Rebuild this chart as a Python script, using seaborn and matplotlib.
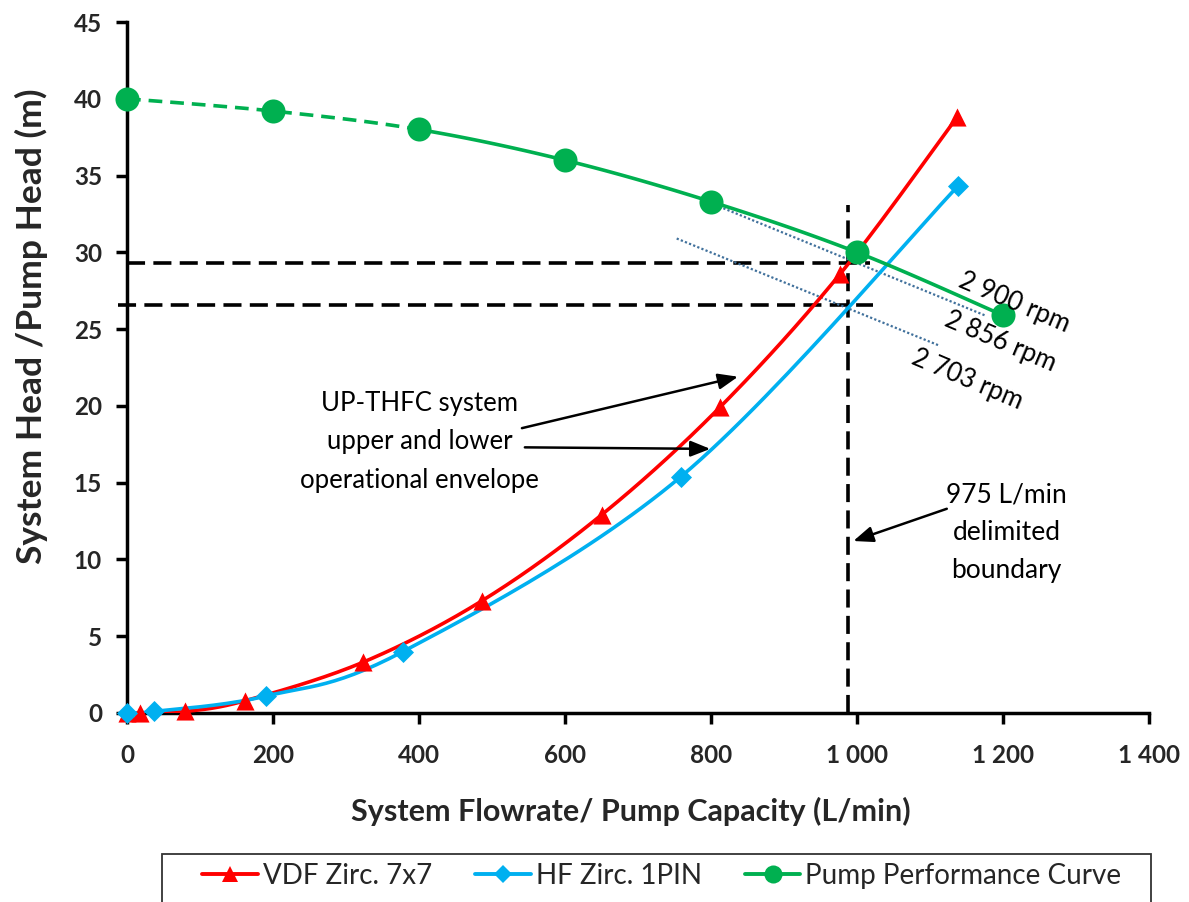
import numpy as np
import matplotlib
matplotlib.use("Agg")
import matplotlib.pyplot as plt
import seaborn as sns
from matplotlib.lines import Line2D
from matplotlib.patches import Rectangle
from matplotlib.ticker import FuncFormatter, MultipleLocator

# ---------------- data ----------------
vdf_x = [0, 18, 80, 162, 323, 486, 650, 812, 977, 1137]
vdf_y = [0, 0, 0.1, 0.8, 3.3, 7.3, 12.9, 19.9, 28.6, 38.8]

hf_x = [0, 37, 190, 378, 759, 1138]
hf_y = [0, 0.1, 1.1, 4.0, 15.4, 34.3]

pump_x = [0, 200, 400, 600, 800, 1000, 1200]
pump_y = [40, 39.2, 38, 36, 33.3, 30, 25.9]

legend_labels = ["VDF Zirc. 7x7", "HF Zirc. 1PIN", "Pump Performance Curve"]
rpm_labels = ["2 900 rpm", "2 856 rpm", "2 703 rpm"]
envelope_text = "UP-THFC system\nupper and lower\noperational envelope"
boundary_text = "975 L/min\ndelimited\nboundary"

x_label = "System Flowrate/ Pump Capacity (L/min)"
y_label = "System Head /Pump Head (m)"

RED = "#FF0000"
BLUE = "#00B0F0"
GREEN = "#00B050"
DOT = "#41719C"

sns.set_theme(style="white")
plt.rcParams["font.family"] = ["Lato", "DejaVu Sans"]

W, H = 1189, 902
fig = plt.figure(figsize=(W / 100, H / 100), dpi=100)
ax = fig.add_axes([127 / W, 1 - 713 / H, (1149 - 127) / W, (713 - 22) / H])
XMAX, YMAX = 1400, 45
ax.set_xlim(0, XMAX)
ax.set_ylim(0, YMAX)


def smooth(xs, ys, n=30):
    """Excel-style smoothed line (Catmull-Rom / Bezier) in normalised screen space."""
    sx = np.array(xs, float) / XMAX * 1022
    sy = np.array(ys, float) / YMAX * 691
    P = np.column_stack([sx, sy])
    out = []
    for i in range(len(P) - 1):
        p0 = P[i - 1] if i > 0 else P[i]
        p1, p2 = P[i], P[i + 1]
        p3 = P[i + 2] if i + 2 < len(P) else P[i + 1]
        c1 = p1 + (p2 - p0) / 6
        c2 = p2 - (p3 - p1) / 6
        t = np.linspace(0, 1, n)[:, None]
        seg = (1 - t) ** 3 * p1 + 3 * (1 - t) ** 2 * t * c1 + 3 * (1 - t) * t ** 2 * c2 + t ** 3 * p2
        out.append(seg if i == 0 else seg[1:])
    out = np.vstack(out)
    return out[:, 0] / 1022 * XMAX, out[:, 1] / 691 * YMAX


def draw_curve(xs, ys, color, lw, ls="-"):
    cx, cy = smooth(xs, ys)
    sns.lineplot(x=cx, y=cy, sort=False, estimator=None, ax=ax,
                 color=color, lw=lw, ls=ls, zorder=3)


# red / blue curves
draw_curve(vdf_x, vdf_y, RED, 2.6)
draw_curve(hf_x, hf_y, BLUE, 2.6)

# pump curve: dashed up to 400, solid afterwards
px, py = smooth(pump_x, pump_y)
split = pump_x.index(400)
npts = 30
k = split * (npts - 1)
sns.lineplot(x=px[: k + 1], y=py[: k + 1], sort=False, estimator=None, ax=ax,
             color=GREEN, lw=2.6, ls=(0, (3.8, 2.2)), zorder=3)
sns.lineplot(x=px[k:], y=py[k:], sort=False, estimator=None, ax=ax,
             color=GREEN, lw=2.6, ls="-", zorder=3)

# markers
sns.scatterplot(x=vdf_x, y=vdf_y, ax=ax, marker="^", s=170, color=RED,
                edgecolor=RED, linewidth=0, zorder=4, clip_on=False)
sns.scatterplot(x=hf_x, y=hf_y, ax=ax, marker="D", s=115, color=BLUE,
                edgecolor=BLUE, linewidth=0, zorder=4, clip_on=False)
sns.scatterplot(x=pump_x, y=pump_y, ax=ax, marker="o", s=300, color=GREEN,
                edgecolor=GREEN, linewidth=0, zorder=4, clip_on=False)

# reference dashed lines
dash = (0, (5, 2.3))
ax.plot([0, 1018], [29.3, 29.3], color="black", lw=2.6, ls=dash, zorder=2)
ax.plot([-12, 1022], [26.55, 26.55], color="black", lw=2.6, ls=dash, zorder=2, clip_on=False)
ax.plot([988, 988], [0, 33.1], color="black", lw=2.6, ls=dash, zorder=2)

# dotted tangent lines
ax.plot([800, 1175], [33.2, 25.9], color=DOT, lw=1.6, ls=(0, (1, 1)), zorder=2)
ax.plot([753, 1111], [30.9, 23.96], color=DOT, lw=1.6, ls=(0, (1, 1)), zorder=2)

# rpm labels
for (tx, ty), lab in zip([(1216, 26.75), (1197, 24.2), (1151, 21.7)], rpm_labels):
    ax.text(tx, ty, lab, rotation=-23, ha="center", va="center", fontsize=18.5,
            color="black", rotation_mode="anchor", zorder=5)

# envelope annotation
ax.text(401, 17.65, envelope_text, ha="center", va="center", fontsize=18.5,
        linespacing=1.68, color="black")
arrow_kw = dict(arrowstyle="-|>,head_length=1.0,head_width=0.4", color="black",
                lw=1.8, shrinkA=0, shrinkB=0)
ax.annotate("", xy=(837, 21.9), xytext=(541, 18.55), arrowprops=arrow_kw)
ax.annotate("", xy=(799, 17.2), xytext=(545, 17.3), arrowprops=arrow_kw)

# boundary annotation
ax.text(1205, 11.75, boundary_text, ha="center", va="center", fontsize=19,
        linespacing=1.65, color="black")
ax.annotate("", xy=(995, 11.2), xytext=(1123, 13.3), arrowprops=arrow_kw)

# axes styling
for s in ["top", "right"]:
    ax.spines[s].set_visible(False)
for s in ["left", "bottom"]:
    ax.spines[s].set_color("black")
    ax.spines[s].set_linewidth(2.5)
ax.xaxis.set_major_locator(MultipleLocator(200))
ax.yaxis.set_major_locator(MultipleLocator(5))
ax.xaxis.set_major_formatter(FuncFormatter(lambda v, p: f"{int(v):,}".replace(",", " ")))
ax.yaxis.set_major_formatter(FuncFormatter(lambda v, p: f"{int(v)}"))
ax.tick_params(axis="both", which="major", direction="out", length=8, width=2.5,
               color="black", labelsize=17.5, bottom=True, left=True)
ax.tick_params(axis="x", pad=14)
ax.tick_params(axis="y", pad=10)
for lab in ax.get_xticklabels() + ax.get_yticklabels():
    lab.set_fontweight("bold")
ax.set_xlabel(x_label, fontsize=22, fontweight="bold")
ax.set_ylabel(y_label, fontsize=25.5, fontweight="bold")
ax.xaxis.set_label_coords(0.493, -0.122)
ax.yaxis.set_label_coords(-0.077, 0.559)
ax.grid(False)

# legend (frame drawn separately so it runs off the bottom like the original)
fig.patches.append(Rectangle((162 / W, -0.05), (1151 - 162) / W, 0.05 + (1 - 854 / H),
                             transform=fig.transFigure, fill=False,
                             edgecolor="#333333", lw=1.3, zorder=1))
handles = [
    Line2D([], [], color=RED, lw=2.8, marker="^", markersize=12, markeredgewidth=0),
    Line2D([], [], color=BLUE, lw=2.8, marker="D", markersize=9, markeredgewidth=0),
    Line2D([], [], color=GREEN, lw=2.8, marker="o", markersize=13, markeredgewidth=0),
]
leg = fig.legend(handles, legend_labels, loc="upper center", ncol=3,
                 bbox_to_anchor=(662 / W, 1 - 852 / H), fontsize=20, frameon=False,
                 handlelength=2.0, handletextpad=0.18, columnspacing=1.55,
                 borderpad=0.4, borderaxespad=0)

fig.savefig("out.png", dpi=100)
